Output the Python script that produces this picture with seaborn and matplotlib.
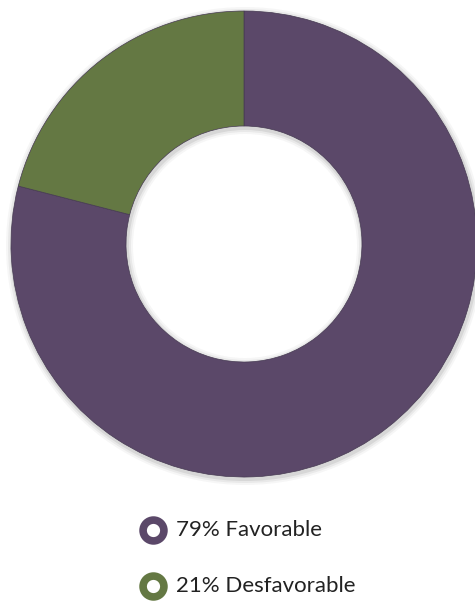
import matplotlib
matplotlib.use("Agg")
import matplotlib.pyplot as plt
import seaborn as sns

categories = ["Favorable", "Desfavorable"]
values = [79, 21]
colors = ["#5b4869", "#647843"]

sns.set_theme(style="white")
plt.rcParams["font.family"] = ["Lato", "DejaVu Sans"]

W, H = 475, 602
fig = plt.figure(figsize=(W / 100, H / 100), dpi=100)
ax = fig.add_axes([0, 0, 1, 1])

cx, cy, r = 244, H - 244, 233
width = r - 118

# soft shadow
for k, a in [(6, 0.05), (4, 0.08), (2, 0.12)]:
    ax.pie([1], radius=r + k, center=(cx + 1, cy - 2), colors=["#555555"],
           wedgeprops=dict(width=width + 2 * k, alpha=a, linewidth=0),
           frame=True)

wedges, _ = ax.pie(values, radius=r, center=(cx, cy), colors=colors,
                   startangle=90, counterclock=False,
                   wedgeprops=dict(width=width, edgecolor="#463a52", linewidth=0.5),
                   frame=True)
ax.set_xlim(0, W)
ax.set_ylim(0, H)
ax.set_aspect("equal")
ax.axis("off")

labels = [f"{v}% {c}" for v, c in zip(values, categories)]
legend_y = [H - 530, H - 586]
for col, lab, y in zip(colors, labels, legend_y):
    ax.plot([153], [y], marker="o", linestyle="", markersize=15,
            markerfacecolor="white", markeredgecolor=col, markeredgewidth=5.5)
    ax.text(176, y, lab, va="center", ha="left", fontsize=16, color="#222222")

fig.savefig("out.png", dpi=100)
